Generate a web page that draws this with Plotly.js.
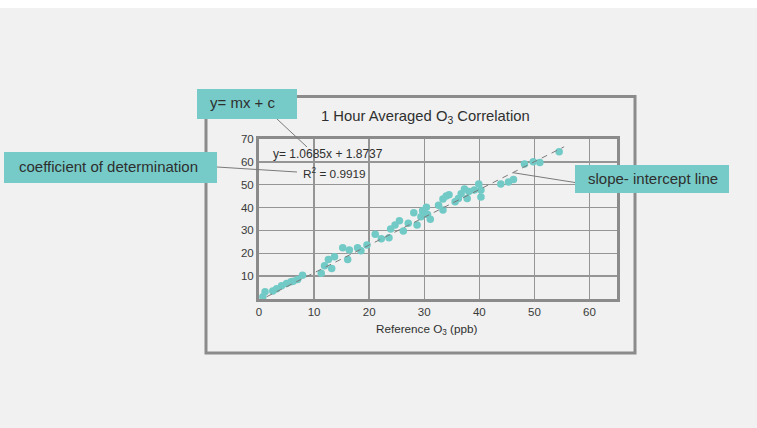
<!DOCTYPE html>
<html>
<head>
<meta charset="utf-8">
<script src="https://cdn.plot.ly/plotly-3.0.1.min.js"></script>
<style>html,body{margin:0;padding:0;background:#f0f1f0;}#chart{width:757px;height:428px;}</style>
</head>
<body>
<div id="chart"></div>
<script>
// Data
const refO3 = [0.7, 1.1, 2.5, 3.2, 4.1, 5.0, 5.8, 6.2, 7.0, 7.9, 11.3, 11.9, 12.6, 13.2, 13.7, 15.2, 16.1, 16.4, 17.9, 18.5, 19.6, 21.1, 22.2, 23.6, 23.9, 24.7, 25.5, 26.2, 27.1, 28.1, 28.7, 29.4, 29.7, 30.4, 30.6, 31.1, 32.6, 33.4, 33.4, 34.0, 34.5, 35.6, 36.2, 36.7, 37.3, 37.8, 38.1, 39.1, 39.9, 40.3, 40.3, 43.9, 45.3, 46.2, 48.2, 49.8, 51.0, 54.5];
const sensorO3 = [1.0, 3.2, 3.5, 4.5, 5.8, 6.8, 7.5, 7.8, 8.5, 10.4, 11.3, 14.6, 17.3, 13.3, 18.5, 22.4, 17.3, 21.4, 22.4, 21.1, 23.6, 28.3, 26.4, 26.8, 30.6, 32.4, 34.2, 29.8, 33.1, 37.7, 32.4, 36.0, 38.6, 40.1, 37.0, 34.9, 41.0, 38.9, 43.7, 45.1, 45.6, 42.5, 44.0, 46.0, 48.1, 44.0, 47.0, 47.7, 50.3, 47.7, 44.6, 50.3, 51.2, 52.3, 59.1, 60.1, 59.7, 64.4];
const fitX = [1.4, 55.4];
const fitY = [1.0, 66.6];
const xTicks = [0, 10, 20, 30, 40, 50, 60];
const yTicks = [10, 20, 30, 40, 50, 60, 70];
const titleText = '1 Hour Averaged O<sub>3</sub> Correlation';
const xTitleText = 'Reference O<sub>3</sub> (ppb)';
const eqText = 'y= 1.0685x + 1.8737';
const r2Text = 'R<sup>2</sup> = 0.9919';
const calloutEq = 'y= mx + c';
const calloutR2 = 'coefficient of determination';
const calloutLine = 'slope- intercept line';

// pixel -> paper helpers (plot area 259..617 x, 139..299 y)
const L = 259, R = 617, T = 139, B = 299;
const px = v => (v - L) / (R - L);
const py = v => (B - v) / (B - T);

const teal = '#76cbc8';
const grey = '#8a8b8a';
const txt = '#2f2f2f';
const font = 'Liberation Sans, Arial, Helvetica, sans-serif';

function rect(x0, y0, x1, y1, fill, line, lw) {
  return {type: 'rect', xref: 'paper', yref: 'paper', x0: px(x0), x1: px(x1), y0: py(y1), y1: py(y0),
    fillcolor: fill, line: {color: line || 'rgba(0,0,0,0)', width: lw || 0}, layer: 'above'};
}
function seg(x0, y0, x1, y1) {
  return {type: 'line', xref: 'paper', yref: 'paper', x0: px(x0), x1: px(x1), y0: py(y0), y1: py(y1),
    line: {color: '#7a7a7a', width: 1}, layer: 'above'};
}
function label(text, x, y, size, extra) {
  return Object.assign({text: text, xref: 'paper', yref: 'paper', x: px(x), y: py(y), showarrow: false,
    xanchor: 'center', yanchor: 'middle', font: {family: font, size: size, color: txt}}, extra || {});
}

const traces = [
  {x: refO3, y: sensorO3, type: 'scatter', mode: 'markers',
   marker: {color: '#72cac7', size: 7.5, line: {width: 0}}, hoverinfo: 'skip'},
  {x: fitX, y: fitY, type: 'scatter', mode: 'lines',
   line: {color: '#7a7a7a', width: 1, dash: '6px,5px'}, hoverinfo: 'skip'}
];

const axisCommon = {
  showgrid: true, gridcolor: '#959595', gridwidth: 1.3,
  showline: true, mirror: true, linecolor: grey, linewidth: 3,
  zeroline: false, ticks: '', tickfont: {family: font, size: 11.5, color: '#3a3a3a'},
  fixedrange: true
};

const layout = {
  width: 757, height: 428,
  margin: {l: L, r: 757 - R, t: T, b: 428 - B, pad: 0},
  paper_bgcolor: '#f0f1f0', plot_bgcolor: '#f0f1f0',
  showlegend: false,
  xaxis: Object.assign({}, axisCommon, {range: [0, 65], tickvals: xTicks, ticktext: xTicks.map(String)}),
  yaxis: Object.assign({}, axisCommon, {range: [0, 70], tickvals: yTicks, ticktext: yTicks.map(String)}),
  shapes: [
    // white strip at top of image
    rect(0, 0, 757, 8, '#ffffff'),
    // outer frame
    Object.assign(rect(206, 96.5, 635, 353, 'rgba(0,0,0,0)', grey, 3), {layer: 'below'}),
    // leader lines
    seg(277, 119, 307, 147),
    seg(217, 167, 297, 172),
    seg(575, 182.5, 513, 172.7),
    // callout boxes
    rect(197, 89, 297, 119, teal),
    rect(4, 152, 217, 183, teal),
    rect(575, 165, 729, 193, teal)
  ],
  annotations: [
    label(titleText, 425, 117, 14.8),
    label(xTitleText, 426.5, 329, 11.7),
    label(eqText, 328, 153.5, 12),
    label(r2Text, 334, 173.5, 11.8),
    label(calloutEq, 243, 103, 15),
    label(calloutR2, 108, 166.5, 15),
    label(calloutLine, 653, 178.5, 15)
  ]
};

Plotly.newPlot('chart', traces, layout, {displayModeBar: false, staticPlot: true});
</script>
</body>
</html>
